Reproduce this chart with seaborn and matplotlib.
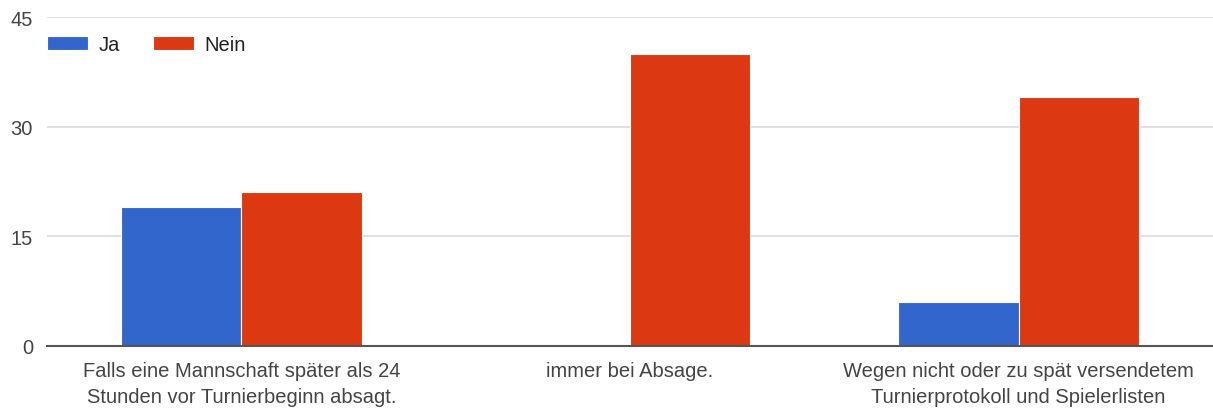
import pandas as pd
import matplotlib
matplotlib.use("Agg")
import matplotlib.pyplot as plt
import seaborn as sns

# Chart data
categories = [
    "Falls eine Mannschaft später als 24\nStunden vor Turnierbeginn absagt.",
    "immer bei Absage.",
    "Wegen nicht oder zu spät versendetem\nTurnierprotokoll und Spielerlisten",
]
ja_values = [19, 0, 6]
nein_values = [21, 40, 34]
series_names = ["Ja", "Nein"]
y_ticks = [0, 15, 30, 45]

df = pd.DataFrame({
    "Kategorie": categories * 2,
    "Antwort": [series_names[0]] * 3 + [series_names[1]] * 3,
    "Anzahl": ja_values + nein_values,
})

sns.set_style("white")
plt.rcParams["font.family"] = ["Liberation Sans", "DejaVu Sans"]

fig = plt.figure(figsize=(12.13, 4.14), dpi=100)
ax = fig.add_axes([0.0387, 0.162, 0.9613, 0.7945])

palette = {"Ja": "#3366CC", "Nein": "#DC3912"}
sns.barplot(data=df, x="Kategorie", y="Anzahl", hue="Antwort",
            palette=palette, width=0.62, saturation=1, ax=ax,
            edgecolor="white", linewidth=0.8)

ax.set_ylim(0, 45)
ax.set_yticks(y_ticks)
ax.set_xlim(-0.5, 2.5)
ax.yaxis.grid(True, color="#dddddd", linewidth=1.3)
ax.set_axisbelow(True)
for s in ["top", "right", "left"]:
    ax.spines[s].set_visible(False)
ax.spines["bottom"].set_color("#555555")
ax.spines["bottom"].set_linewidth(1.5)
ax.spines["bottom"].set_zorder(5)
ax.tick_params(axis="both", length=0, labelsize=14.5, labelcolor="#444444")
ax.tick_params(axis="y", pad=10)
ax.tick_params(axis="x", pad=11)
for lbl in ax.get_xticklabels():
    lbl.set_linespacing(1.45)
ax.set_xlabel("")
ax.set_ylabel("")

ax.legend(loc="upper left", bbox_to_anchor=(0.0, 0.945), ncol=2, frameon=False,
          fontsize=14.5, handlelength=2.05, handleheight=0.75, handletextpad=0.5,
          columnspacing=1.65, borderaxespad=0, borderpad=0)
for t in ax.get_legend().get_texts():
    t.set_color("#222222")

fig.savefig("out.png", dpi=100)
